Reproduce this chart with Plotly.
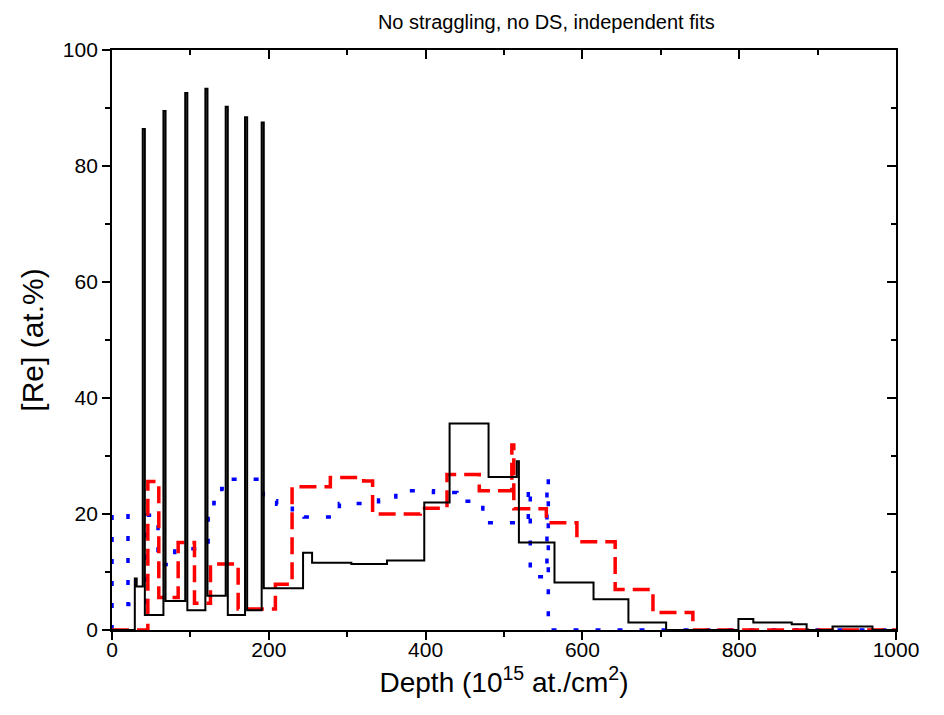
import plotly.graph_objects as go

# ---- data (layer start depths in 1e15 at/cm2, Re concentration in at.%) ----
black_depth = [0, 29.1, 31.5, 39.2, 41.9, 65.6, 68.3, 93.4, 96.1, 119.1, 121.8,
               145.0, 147.7, 169.7, 172.4, 190.9, 193.6, 243.7, 255.2, 305.3,
               350.8, 398.3, 430.6, 480.3, 516.3, 519.0, 564.4, 614.2, 658.7,
               706.8, 799.0, 818.0, 867.0, 886.0, 919.0, 970.0, 1000.0]
black_conc = [0, 8.9, 7.5, 86.4, 2.6, 89.5, 5.0, 92.6, 3.4, 93.3, 5.9,
              90.2, 2.6, 88.4, 3.4, 87.5, 7.2, 13.3, 11.6, 11.4,
              12.0, 22.0, 35.6, 26.4, 29.1, 15.1, 8.2, 5.3, 1.3,
              0.0, 1.9, 1.3, 1.0, 0.0, 0.6, 0.0, 0.0]

red_depth = [0, 45.7, 59.7, 84.4, 105.2, 125.6, 160.9, 208.4, 229.7, 278.5,
             321.0, 332.4, 393.2, 427.3, 468.5, 510.0, 512.5, 554.0, 593.0,
             641.8, 690.0, 740.9, 1000.0]
red_conc = [0, 25.6, 5.6, 15.1, 4.6, 11.4, 3.6, 7.9, 24.7, 26.3,
            25.7, 20.0, 21.0, 26.8, 24.0, 31.9, 20.9, 18.5, 15.2,
            7.0, 3.0, 0.0, 0.0]

blue_depth = [0, 20.4, 44.3, 58.7, 80.0, 122.6, 130.0, 140.0, 152.0, 193.0,
              210.0, 230.0, 245.0, 290.0, 340.0, 362.0, 410.0, 440.0, 460.0,
              473.0, 531.0, 533.5, 554.8, 556.5, 1000.0]
blue_conc = [20.0, 4.4, 19.8, 11.3, 14.0, 19.8, 22.0, 24.4, 26.0, 22.3,
             21.7, 20.2, 19.5, 21.8, 22.4, 24.0, 23.7, 22.2, 21.8,
             18.5, 24.7, 9.2, 26.2, 0.0, 0.0]

x_ticks = [0, 200, 400, 600, 800, 1000]
y_ticks = [0, 20, 40, 60, 80, 100]

FONT = "Liberation Sans, Arial, sans-serif"

fig = go.Figure()
fig.add_trace(go.Scatter(x=[0] + blue_depth, y=[0] + blue_conc, mode="lines",
                         line=dict(color="#0000FF", width=3.5, dash="5px,17px", shape="hv"),
                         hoverinfo="skip", showlegend=False))
fig.add_trace(go.Scatter(x=red_depth, y=red_conc, mode="lines",
                         line=dict(color="#FF0000", width=3.5, dash="17px,8px", shape="hv"),
                         hoverinfo="skip", showlegend=False))
fig.add_trace(go.Scatter(x=black_depth, y=black_conc, mode="lines",
                         line=dict(color="black", width=2, shape="hv"),
                         hoverinfo="skip", showlegend=False))
# invisible trace to anchor the mirrored (top/right) axes
fig.add_trace(go.Scatter(x=[0], y=[0], xaxis="x2", yaxis="y2", mode="markers",
                         marker=dict(opacity=0), hoverinfo="skip", showlegend=False))

axis_common = dict(showline=True, linecolor="black", linewidth=1.8, showgrid=False,
                   zeroline=False, tickcolor="black", tickwidth=1.8)

fig.update_layout(
    width=944, height=715,
    margin=dict(l=111.5, r=48, t=49.5, b=85),
    paper_bgcolor="white", plot_bgcolor="white",
    font=dict(family=FONT, color="black", size=21),
    title=dict(text="No straggling, no DS, independent fits", x=0.554, xref="paper",
               xanchor="center", y=0.969, yref="container", yanchor="middle",
               font=dict(size=20, family=FONT, color="black")),
    xaxis=dict(range=[0, 1000], tickvals=x_ticks, ticks="outside", ticklen=8,
               ticklabelstandoff=-8,
               minor=dict(dtick=100, ticks="outside", ticklen=5, tickcolor="black", tickwidth=1.8),
               title=dict(text="Depth (10<sup>15</sup> at./cm<sup>2</sup>)", font=dict(size=28), standoff=12),
               tickfont=dict(size=21), layer="below traces", **axis_common),
    yaxis=dict(range=[0, 100], tickvals=y_ticks, ticks="outside", ticklen=8,
               minor=dict(dtick=10, ticks="outside", ticklen=5, tickcolor="black", tickwidth=1.8),
               title=dict(text="[Re] (at.%)", font=dict(size=30), standoff=10),
               tickfont=dict(size=21), layer="below traces", **axis_common),
    xaxis2=dict(range=[0, 1000], overlaying="x", side="top", anchor="y", tickvals=x_ticks,
                ticks="inside", ticklen=9, showticklabels=False,
                minor=dict(dtick=100, ticks="inside", ticklen=5, tickcolor="black", tickwidth=1.8),
                **axis_common),
    yaxis2=dict(range=[0, 100], overlaying="y", side="right", anchor="x", tickvals=y_ticks,
                ticks="inside", ticklen=9, showticklabels=False,
                minor=dict(dtick=10, ticks="inside", ticklen=5, tickcolor="black", tickwidth=1.8),
                **axis_common),
)

fig.write_html("out.html")
